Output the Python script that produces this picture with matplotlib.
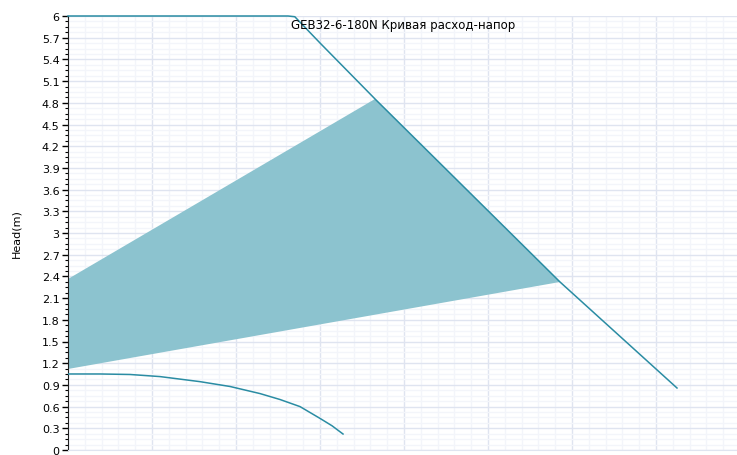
import numpy as np
import matplotlib.pyplot as plt
from matplotlib.ticker import MultipleLocator

# values (x has no labels, arbitrary flow units)
head_x = [0.0, 2.62, 2.70, 3.0, 3.655, 5.857, 7.25]
head_y = [6.0, 6.0, 5.99, 5.627, 4.853, 2.323, 0.857]

area_x = [0.0, 3.655, 5.857, 0.0]
area_y = [2.364, 4.853, 2.323, 1.12]

low_x = [0.0, 0.381, 0.738, 1.095, 1.571, 1.929, 2.286, 2.524, 2.762, 3.0, 3.143, 3.274]
low_y = [1.051, 1.051, 1.044, 1.015, 0.945, 0.878, 0.780, 0.698, 0.600, 0.437, 0.335, 0.221]

yticks = np.arange(0, 6.01, 0.3)
title = "GEB32-6-180N Кривая расход-напор"

line_col = "#2a8ca3"
fill_col = "#8cc3cf"

fig = plt.figure(figsize=(7.37, 4.56), dpi=100)
ax = fig.add_axes([68/737, 5/456, 1 - 68/737, 434/456])

ax.fill(area_x, area_y, color=fill_col, lw=0, zorder=2)
ax.plot(head_x, head_y, color=line_col, lw=1.1, zorder=3, clip_on=False)
ax.plot(low_x, low_y, color=line_col, lw=1.1, zorder=3)

ax.set_xlim(0, 669/84)
ax.set_ylim(0, 6)
ax.set_yticks(yticks)
ax.yaxis.set_major_formatter(plt.FuncFormatter(lambda v, p: f"{v:g}"))
ax.yaxis.set_minor_locator(MultipleLocator(0.075))
ax.xaxis.set_major_locator(MultipleLocator(1))
ax.xaxis.set_minor_locator(MultipleLocator(0.2))
ax.tick_params(axis='x', which='both', bottom=False, labelbottom=False)
ax.tick_params(axis='y', which='major', length=4, width=1, labelsize=8, pad=2)
ax.tick_params(axis='y', which='minor', length=2.5, width=0.8)

ax.grid(which='major', color='#dfe4f0', lw=1, zorder=0)
ax.grid(which='minor', color='#f3f5fa', lw=1, zorder=0)
ax.set_axisbelow(True)

for s in ['top', 'right']:
    ax.spines[s].set_visible(False)
ax.spines['bottom'].set_color('#dfe4f0')
ax.spines['left'].set_color('#222222')

ax.set_ylabel("Head(m)", fontsize=8, labelpad=15)
ax.text((403 - 68) / 84, 5.88, title, fontsize=8.5, ha='center', va='center', zorder=4)

fig.savefig("out.png", dpi=100)
